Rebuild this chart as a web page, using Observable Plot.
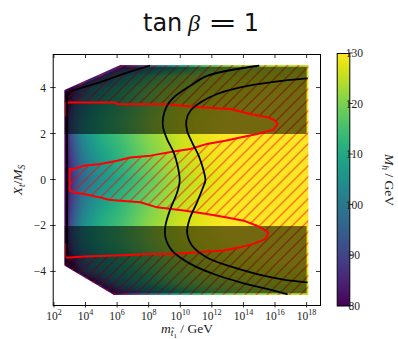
<!DOCTYPE html>
<html><head><meta charset="utf-8">
<script src="https://cdn.jsdelivr.net/npm/d3@7"></script>
<script src="https://cdn.jsdelivr.net/npm/@observablehq/plot@0.6"></script>
<style>
body{margin:0;background:#fff;}
#wrap{position:relative;width:398px;height:339px;overflow:hidden;background:#fff;}
#wrap svg{position:absolute;}
</style></head><body>
<svg width="0" height="0" style="position:absolute;left:0;top:0"><defs>
<pattern id="hatch" patternUnits="userSpaceOnUse" width="11" height="11">
<path d="M-1,1 L1,-1 M0,11 L11,0 M10,12 L12,10" stroke="#ff0000" stroke-width="1"/>
</pattern></defs></svg>
<div id="wrap"></div>
<script>
// ---------- data ----------
// stop-mass exponents (log10 m / GeV) of the grid columns
const mStopExp = [2.6, 2.8, 3.0, 3.3, 3.7, 4.2, 5, 6, 7, 8, 9, 10, 11, 12, 13, 14, 16, 18.1];
// X_t/M_S values of the grid rows
const xtRows = [5, 4.5, 4, 3, 2.5, 2, 1, 0, -1, -2, -2.5, -3, -4, -4.5, -5];
// M_h / GeV, one array per row
const mh_p50 = [66, 66, 66, 68, 70, 72, 74, 78, 84, 92, 101, 108, 114, 118, 121, 123, 125, 125.8];
const mh_p45 = [68, 68, 70, 72, 74, 77, 88, 101, 108, 113, 117.5, 121, 123, 124.8, 125.8, 126.2, 126.5, 126.7];
const mh_p40 = [70, 72, 76, 84, 92, 98, 104, 110, 114.5, 118.5, 121.5, 123.5, 125, 126, 126.8, 127.6, 128.8, 129.5];
const mh_p30 = [74, 80, 88, 95, 101, 105.5, 110.5, 114, 117.5, 121, 124, 126, 127.5, 128.5, 129.5, 130.5, 132, 133];
const mh_p25 = [75, 82, 91, 97, 103, 107.5, 112, 115, 118.5, 122, 124.5, 126.8, 128, 129, 130, 131, 132.5, 134];
const mh_p20 = [75, 82, 91, 97, 103, 107, 111.5, 114.5, 118, 121.5, 124, 126.5, 127.8, 129, 130, 131, 133, 134.5];
const mh_p10 = [75, 81, 88, 93, 99, 103, 108, 112, 116, 119.5, 122.5, 125.5, 127, 128.8, 129.7, 131, 133, 134.5];
const mh_z00 = [74, 79, 85, 90, 96, 100, 105, 109.5, 113.5, 117.5, 121, 124, 126, 127.8, 129.2, 130.5, 132.5, 134];
const mh_m10 = [75, 81, 88, 93, 99, 103, 108, 112, 116, 119.5, 122.5, 125.3, 127, 128.7, 129.7, 131, 133, 134.5];
const mh_m20 = [75, 82, 91, 97, 103, 107, 111.5, 114.5, 118, 121.5, 124, 126.4, 127.8, 129, 130, 131, 133, 134.5];
const mh_m25 = [75, 82, 90.5, 96.5, 102.5, 107, 111.5, 114.5, 118, 121.5, 124, 126.5, 127.8, 128.8, 129.8, 130.8, 132.3, 133.8];
const mh_m30 = [74, 80, 87.5, 94, 100, 104.5, 109.5, 113, 116.5, 120, 123, 125.5, 127, 128, 129, 130, 131.5, 132.5];
const mh_m40 = [68, 69, 71, 78, 88, 95, 101, 106.5, 111, 115, 118.5, 121, 123, 124.5, 125.8, 126.7, 127.8, 128.5];
const mh_m45 = [66, 66, 67, 68, 70, 74, 86, 99, 106, 111, 115, 118.5, 120.5, 122, 123.2, 124, 125.5, 126.7];
const mh_m50 = [64, 64, 64, 66, 68, 70, 74, 80, 88, 96, 103, 109, 113, 116.5, 119, 121, 123.5, 125];
const mhRows = [mh_p50, mh_p45, mh_p40, mh_p30, mh_p25, mh_p20, mh_p10, mh_z00, mh_m10, mh_m20, mh_m25, mh_m30, mh_m40, mh_m45, mh_m50];

// extent of the computed region
const dataMinExp = 2.63, dataMaxExp = 18.08, dataXtMax = 5.0;
const topEdgeExp = [2.63, 6.28], topEdgeXt = [3.88, 5.0];
const botEdgeExp = [2.63, 5.75], botEdgeXt = [-3.73, -5.0];
// darkened band |X_t/M_S| > 2
const bandTopExp = [2.65, 2.65, 6.32, 17.97, 17.97], bandTopXt = [2.0, 3.84, 4.93, 4.93, 2.0];
const bandBotExp = [2.65, 2.65, 5.8, 17.97, 17.97], bandBotXt = [-2.0, -3.69, -4.93, -4.93, -2.0];

// red boundary (stability contour)
const redExp = [2.76, 2.76, 5.86, 5.99, 9.03, 11.24, 13.14, 14.41, 15.56, 15.99, 16.13, 15.88, 14.83, 13.77, 12.82, 11.66, 10.61, 9.55, 8.08, 6.81, 5.97, 4.91, 3.85, 3.22, 2.97, 2.97, 3.22, 3.85, 4.91, 5.44, 6.18, 7.44, 8.5, 10.18, 11.66, 12.93, 13.98, 14.83, 15.56, 15.35, 14.61, 13.77, 12.72, 10.61, 9.55, 8.08, 5.97, 3.85, 3.01, 2.76, 2.76];
const redXt  = [2.80, 3.37, 3.37, 3.30, 3.30, 3.16, 3.09, 2.87, 2.72, 2.58, 2.43, 2.19, 2.0, 1.85, 1.71, 1.57, 1.35, 1.24, 1.06, 0.98, 0.84, 0.70, 0.62, 0.48, 0.48, -0.47, -0.54, -0.61, -0.76, -0.86, -0.90, -0.97, -1.19, -1.33, -1.48, -1.63, -1.77, -1.99, -2.28, -2.57, -2.78, -2.93, -3.07, -3.17, -3.22, -3.22, -3.29, -3.33, -3.37, -3.37, -2.78];

// black contours
const blackAExp = [14.93, 11.66, 10.61, 9.55, 9.13, 8.88, 8.88, 9.13, 9.55, 9.80, 9.93, 9.77, 9.34, 9.03, 9.03, 9.45, 10.61, 12.08, 13.77, 15.46, 16.73];
const blackAXt  = [4.97, 4.53, 4.10, 3.59, 3.23, 2.72, 2.29, 1.78, 1.20, 0.62, -0.03, -0.54, -1.26, -1.99, -2.50, -3.07, -3.65, -4.09, -4.45, -4.74, -4.96];
const blackBExp = [17.99, 15.88, 13.77, 12.30, 11.24, 10.61, 10.35, 10.40, 10.72, 11.13, 11.45, 11.56, 11.45, 11.03, 10.56, 10.40, 10.72, 11.66, 13.14, 14.83, 16.51, 17.99];
const blackBXt  = [4.42, 4.27, 4.03, 3.74, 3.37, 3.01, 2.58, 2.14, 1.63, 1.06, 0.40, -0.03, -0.25, -0.97, -1.70, -2.28, -2.86, -3.37, -3.76, -4.09, -4.33, -4.45];
const blackCExp = [8.0, 6.5, 4.91, 2.91, 2.8, 2.8];
const blackCXt  = [4.97, 4.65, 4.26, 3.84, 3.6, -3.3];

// axes
const xTickExp = [2, 4, 6, 8, 10, 12, 14, 16, 18];
const yTicks = [-4, -2, 0, 2, 4];
const cbTicks = [80, 90, 100, 110, 120, 130];
const mhDomain = [80, 130];

// ---------- build ----------
const P = (ex, ys) => ex.map((e, i) => ({m: 10 ** e, xt: ys[i]}));
const grid = [];
xtRows.forEach((xt, i) => mStopExp.forEach((e, j) => grid.push({m: 10 ** e, xt, mh: mhRows[i][j]})));
const redPts = P(redExp, redXt);
const hatchPoly = redPts.slice(1, -1).concat(P(
  [botEdgeExp[0], botEdgeExp[0], botEdgeExp[1], dataMaxExp, dataMaxExp, topEdgeExp[1], topEdgeExp[0], topEdgeExp[0]],
  [redXt[redXt.length - 2], botEdgeXt[0], botEdgeXt[1], -dataXtMax, dataXtMax, topEdgeXt[1], topEdgeXt[0], redXt[1]]));
const topMask = P(topEdgeExp, topEdgeXt).map(d => ({...d, hi: dataXtMax + 0.1}));
const botMask = P(botEdgeExp, botEdgeXt).map(d => ({...d, hi: -dataXtMax - 0.1}));

const colorOpt = {type: "linear", scheme: "viridis", domain: mhDomain, clamp: true};
const fL = 52.7, fR = 320, fT = 54, fB = 305;

const plot = Plot.plot({
  width: 330, height: 339,
  marginLeft: fL, marginRight: 330 - fR, marginTop: fT, marginBottom: 339 - fB,
  style: {background: "none", overflow: "visible"},
  x: {type: "log", domain: [10 ** 1.92, 10 ** 18.85], axis: null},
  y: {domain: [-5.46, 5.46], axis: null},
  color: colorOpt,
  marks: [
    Plot.raster(grid, {x: "m", y: "xt", fill: "mh", interpolate: "barycentric",
      x1: 10 ** dataMinExp, x2: 10 ** dataMaxExp, y1: -dataXtMax, y2: dataXtMax}),
    Plot.areaY(topMask, {x: "m", y1: "xt", y2: "hi", fill: "white"}),
    Plot.areaY(botMask, {x: "m", y1: "xt", y2: "hi", fill: "white"}),
    Plot.line(hatchPoly, {x: "m", y: "xt", fill: "url(#hatch)", stroke: "none"}),
    Plot.line(P(bandTopExp, bandTopXt), {x: "m", y: "xt", fill: "black", fillOpacity: 0.55, stroke: "none"}),
    Plot.line(P(bandBotExp, bandBotXt), {x: "m", y: "xt", fill: "black", fillOpacity: 0.55, stroke: "none"}),
    Plot.line(redPts, {x: "m", y: "xt", stroke: "#ff0000", strokeWidth: 2}),
    Plot.line(P(blackAExp, blackAXt), {x: "m", y: "xt", stroke: "black", strokeWidth: 1.8, curve: "catmull-rom"}),
    Plot.line(P(blackBExp, blackBXt), {x: "m", y: "xt", stroke: "black", strokeWidth: 1.8, curve: "catmull-rom"}),
    Plot.line(P(blackCExp, blackCXt), {x: "m", y: "xt", stroke: "black", strokeWidth: 1.8}),
    Plot.frame({stroke: "black", strokeWidth: 1})
  ]
});
plot.style.left = "0px"; plot.style.top = "0px";
const wrap = document.getElementById("wrap");
wrap.appendChild(plot);

const serif = "'Liberation Serif', 'DejaVu Serif', serif";
const sx = plot.scale("x"), sy = plot.scale("y");
const s = d3.select(plot);
const tg = s.append("g").attr("stroke", "black").attr("stroke-width", 0.8);
for (const e of xTickExp) {
  const px = sx.apply(10 ** e);
  tg.append("line").attr("x1", px).attr("x2", px).attr("y1", fB - 3).attr("y2", fB + 2.5);
  tg.append("line").attr("x1", px).attr("x2", px).attr("y1", fT).attr("y2", fT + 4);
}
for (const v of yTicks) {
  const py = sy.apply(v);
  tg.append("line").attr("y1", py).attr("y2", py).attr("x1", fL - 2.5).attr("x2", fL + 3);
  tg.append("line").attr("y1", py).attr("y2", py).attr("x1", fR - 4).attr("x2", fR);
}
const lg = s.append("g").attr("font-family", serif).attr("fill", "#222");
for (const e of xTickExp) {
  const t = lg.append("text").attr("x", sx.apply(10 ** e)).attr("y", 319.5).attr("text-anchor", "middle").attr("font-size", 11.5);
  t.append("tspan").text("10");
  t.append("tspan").attr("dy", -4.5).attr("font-size", 8).text(String(e));
}
for (const v of yTicks) {
  lg.append("text").attr("x", 46).attr("y", sy.apply(v) + 4).attr("text-anchor", "end").attr("font-size", 11.5)
    .text(v < 0 ? "\u2212" + Math.abs(v) : String(v));
}
// x label
const xl = lg.append("text").attr("x", 187).attr("y", 333).attr("text-anchor", "middle").attr("font-size", 13.5);
xl.append("tspan").attr("font-style", "italic").text("m");
xl.append("tspan").attr("font-style", "italic").attr("font-size", 9.5).attr("dy", 3).text("t\u0303");
xl.append("tspan").attr("font-size", 7).attr("dy", 1.5).text("1");
xl.append("tspan").attr("dy", -4.5).text(" / GeV");
// y label
const yl = lg.append("text").attr("transform", "translate(22,180) rotate(-90)").attr("text-anchor", "middle").attr("font-size", 13.5);
yl.append("tspan").attr("font-style", "italic").text("X");
yl.append("tspan").attr("font-style", "italic").attr("font-size", 9.5).attr("dy", 3).text("t");
yl.append("tspan").attr("dy", -3).text("/");
yl.append("tspan").attr("font-style", "italic").text("M");
yl.append("tspan").attr("font-style", "italic").attr("font-size", 9.5).attr("dy", 3).text("S");

// ---------- colorbar ----------
const cbL = 16.7, cbR = 29.3, cbT = 53, cbB = 305.5;
const cb = Plot.plot({
  width: 78, height: 339,
  marginLeft: cbL, marginRight: 78 - cbR, marginTop: cbT, marginBottom: 339 - cbB,
  style: {background: "none", overflow: "visible"},
  x: {domain: [0, 1], axis: null},
  y: {domain: mhDomain, axis: null},
  color: colorOpt,
  marks: [
    Plot.raster({x1: 0, x2: 1, y1: mhDomain[0], y2: mhDomain[1], fill: (x, y) => y, pixelSize: 1}),
    Plot.frame({stroke: "black", strokeWidth: 1})
  ]
});
cb.style.left = "320px"; cb.style.top = "0px";
wrap.appendChild(cb);
const cs = d3.select(cb), cy = cb.scale("y");
const cg = cs.append("g");
for (const v of cbTicks) {
  const py = cy.apply(v);
  cg.append("line").attr("x1", cbR).attr("x2", cbR + 3.5).attr("y1", py).attr("y2", py).attr("stroke", "black").attr("stroke-width", 0.8);
  cg.append("text").attr("x", cbR + 5).attr("y", py + 4).attr("font-family", serif).attr("font-size", 11.5).attr("fill", "#222").text(String(v));
}
const cl = cg.append("text").attr("transform", "translate(65,180) rotate(90)").attr("text-anchor", "middle")
  .attr("font-family", serif).attr("font-size", 13.5).attr("fill", "#222");
cl.append("tspan").attr("font-style", "italic").text("M");
cl.append("tspan").attr("font-style", "italic").attr("font-size", 9.5).attr("dy", 3).text("h");
cl.append("tspan").attr("dy", -3).text(" / GeV");

// ---------- title ----------
const sans = "'DejaVu Sans', sans-serif";
const ts = d3.select(wrap).append("svg").attr("width", 398).attr("height", 45).style("left", "0px").style("top", "0px");
const tg2 = ts.append("g").attr("fill", "#111").attr("font-size", 24);
tg2.append("text").attr("x", 143).attr("y", 31).attr("font-family", sans).text("tan");
tg2.append("text").attr("x", 188).attr("y", 31).attr("font-family", serif).attr("font-style", "italic").text("\u03b2");
tg2.append("text").attr("transform", "translate(222.5,31) scale(1.45,1)").attr("text-anchor", "middle").attr("font-family", sans).text("=");
tg2.append("text").attr("x", 251.5).attr("y", 31).attr("text-anchor", "middle").attr("font-family", sans).text("1");
</script>
</body></html>
